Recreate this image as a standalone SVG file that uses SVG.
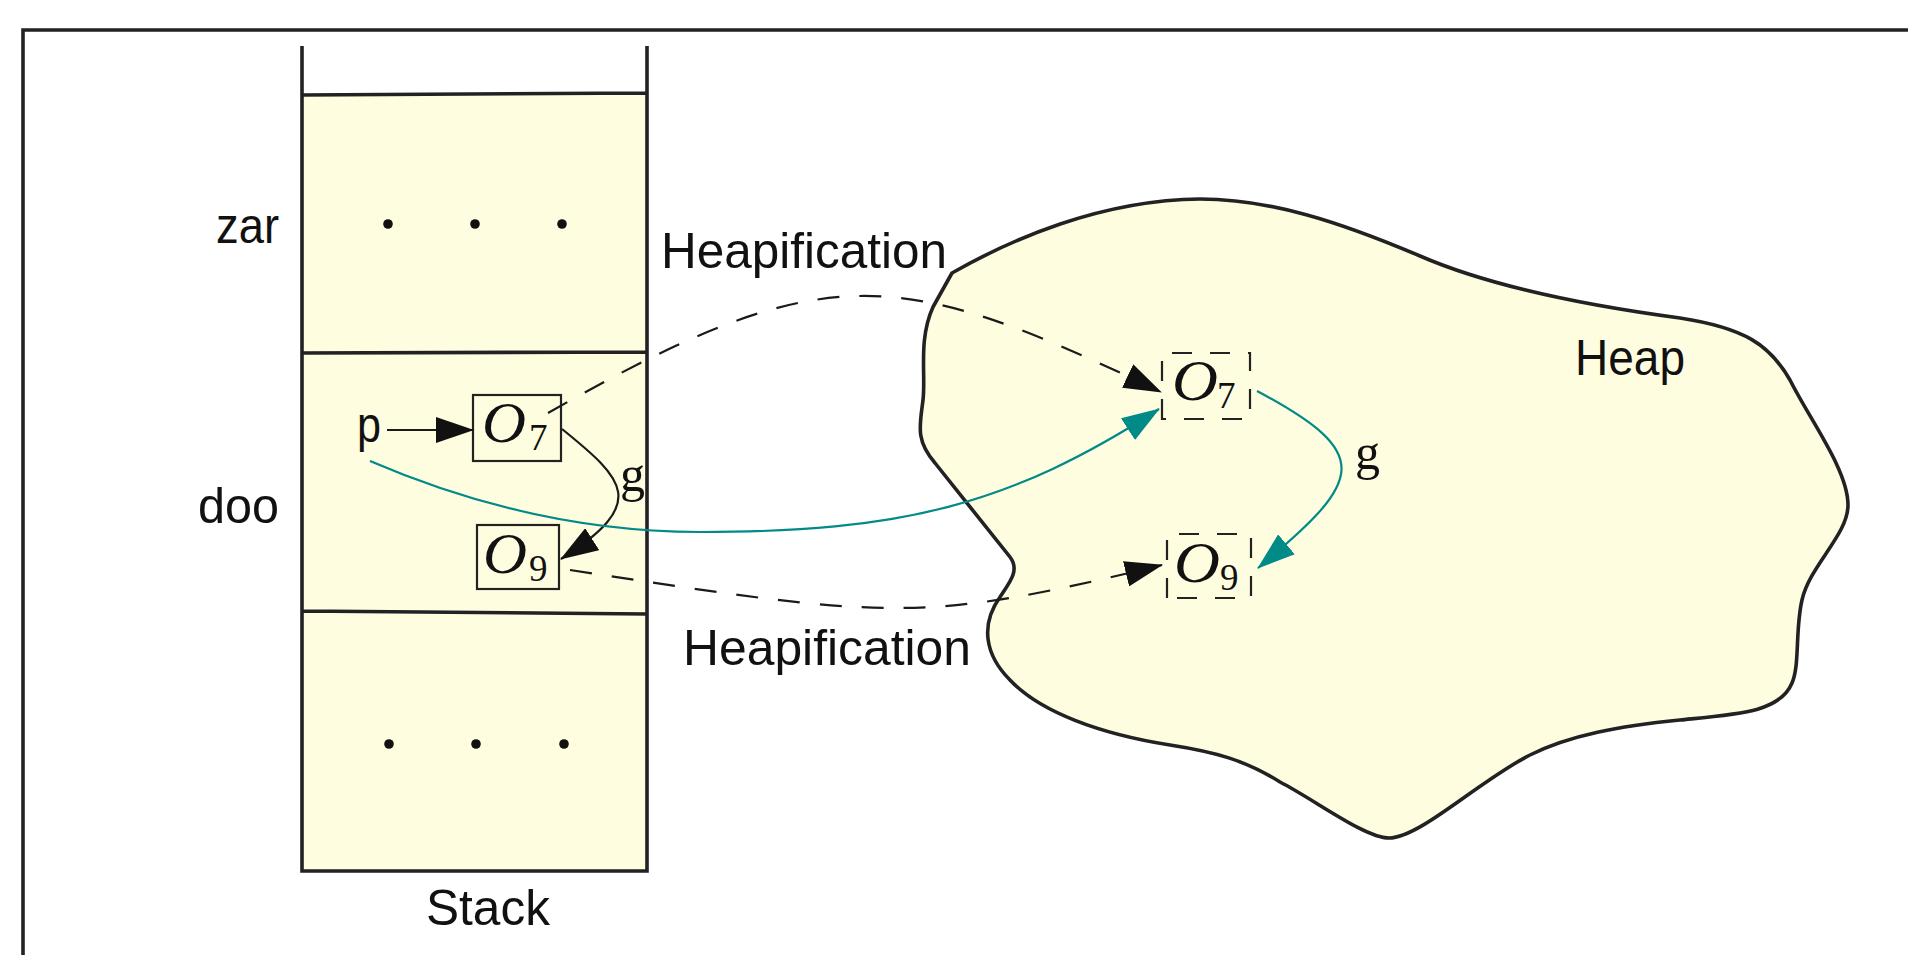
<svg xmlns="http://www.w3.org/2000/svg" width="1908" height="955" viewBox="0 0 1908 955">
<style>
.sans{font-family:"Liberation Sans",Arial,sans-serif;font-size:50px;fill:#111}
.mi{font-family:"Liberation Serif","Times New Roman",serif;font-style:italic;font-size:58px;fill:#111}
.sub{font-family:"Liberation Serif","Times New Roman",serif;font-size:37px;fill:#111}
.rm{font-family:"Liberation Serif","Times New Roman",serif;font-size:50px;fill:#111}
.thick{fill:none;stroke:#222;stroke-width:3.6}
.box{fill:#fffddf;stroke:#222;stroke-width:2.2}
.dbox{fill:none;stroke:#222;stroke-width:2.2;stroke-dasharray:20 18}
.blk{fill:none;stroke:#1a1a1a;stroke-width:2.2}
.dash{fill:none;stroke:#1a1a1a;stroke-width:2.2;stroke-dasharray:22 20}
.teal{fill:none;stroke:#008a88;stroke-width:2.2}
.dot{fill:#111}
</style>
<defs>
<marker id="ahk" markerUnits="userSpaceOnUse" viewBox="0 0 38 26" markerWidth="38" markerHeight="26" refX="37" refY="13" orient="auto"><path d="M0,0 L38,13 L0,26 z" fill="#111"/></marker>
<marker id="aht" markerUnits="userSpaceOnUse" viewBox="0 0 38 26" markerWidth="38" markerHeight="26" refX="37" refY="13" orient="auto"><path d="M0,0 L38,13 L0,26 z" fill="#008a88"/></marker>
</defs>
<rect width="1908" height="955" fill="#fff"/>
<path class="thick" d="M23,960 L23,30 L1915,30"/>

<g id="heap">
<path d="M952,273 C1010,240 1100,200 1200,199 C1270,199 1340,222 1420,256 C1480,282 1560,302 1680,318 C1745,328 1770,345 1790,380 C1810,420 1848,470 1848,505 C1848,535 1810,565 1802,600 C1795,630 1800,665 1792,683 C1780,712 1740,714 1680,720 C1620,726 1570,735 1530,755 C1480,780 1420,838 1389,838 C1365,838 1315,800 1280,782 C1245,760 1215,752 1170,745 C1100,734 1040,712 1010,680 C985,655 980,625 1000,597 C1010,582 1020,570 1010,557 L935,463 C915,440 920,425 923,400 C926,375 918,340 933,307 Z" fill="#fffddf" stroke="#222" stroke-width="3.6" stroke-linejoin="round"/>
<text class="sans" x="1575" y="375" textLength="110" lengthAdjust="spacingAndGlyphs">Heap</text>
</g>

<g id="stack">
<rect x="302" y="94" width="345" height="777" fill="#fffddf"/>
<path class="thick" d="M302,46 L302,871 L647,871 L647,46 M302,95 L647,93 M302,353 L647,352 M302,611 L647,614"/>
<text class="sans" x="426" y="925" textLength="124" lengthAdjust="spacingAndGlyphs">Stack</text>
</g>

<g id="frame-zar">
<text class="sans" x="216" y="243" textLength="63" lengthAdjust="spacingAndGlyphs">zar</text>
<circle class="dot" cx="388" cy="224" r="4.8"/>
<circle class="dot" cx="475" cy="224" r="4.8"/>
<circle class="dot" cx="562" cy="224" r="4.8"/>
</g>
<g id="frame-doo">
<text class="sans" x="198" y="523" textLength="81" lengthAdjust="spacingAndGlyphs">doo</text>
</g>
<g id="frame-bottom">
<circle class="dot" cx="389" cy="744" r="4.8"/>
<circle class="dot" cx="476" cy="744" r="4.8"/>
<circle class="dot" cx="564" cy="744" r="4.8"/>
</g>

<g id="var-p">
<text class="sans" x="357" y="442" textLength="24" lengthAdjust="spacingAndGlyphs">p</text>
</g>

<g id="stack-o7">
<rect class="box" x="473" y="395" width="88" height="66"/>
<text class="mi" x="482" y="442" textLength="44" lengthAdjust="spacingAndGlyphs">O</text>
<text class="sub" x="529" y="450">7</text>
</g>
<g id="stack-o9">
<rect class="box" x="477" y="525" width="82" height="64"/>
<text class="mi" x="483" y="573" textLength="44" lengthAdjust="spacingAndGlyphs">O</text>
<text class="sub" x="529" y="581">9</text>
</g>
<g id="heap-o7">
<path class="dbox" d="M1162,419 L1162,353 L1250,353 L1250,419 Z"/>
<text class="mi" x="1172" y="400" textLength="46" lengthAdjust="spacingAndGlyphs">O</text>
<text class="sub" x="1217" y="408">7</text>
</g>
<g id="heap-o9">
<path class="dbox" d="M1167,598 L1167,534 L1251,534 L1251,598 Z"/>
<text class="mi" x="1174" y="582" textLength="46" lengthAdjust="spacingAndGlyphs">O</text>
<text class="sub" x="1220" y="590">9</text>
</g>

<g id="connectors">
<path class="blk" d="M387,430 L473,430" marker-end="url(#ahk)"/>
<path class="blk" d="M562,429 C625,480 649,503 561,559" marker-end="url(#ahk)"/>
<path class="dash" d="M548,413 C826,255 897,266 1161,392" marker-end="url(#ahk)"/>
<path class="dash" d="M570,570 C890,619 920,624 1162,565" marker-end="url(#ahk)"/>
<path class="teal" d="M370,461 C470,504 580,532 700,532 C900,532 1009,506 1159,409" marker-end="url(#aht)"/>
<path class="teal" d="M1257,391 C1375,454 1364,480 1258,568" marker-end="url(#aht)"/>
<text class="rm" x="620" y="491">g</text>
<text class="rm" x="1355" y="469">g</text>
<text class="sans" x="661" y="268" textLength="286" lengthAdjust="spacingAndGlyphs">Heapification</text>
<text class="sans" x="683" y="665" textLength="288" lengthAdjust="spacingAndGlyphs">Heapification</text>
</g>
</svg>
